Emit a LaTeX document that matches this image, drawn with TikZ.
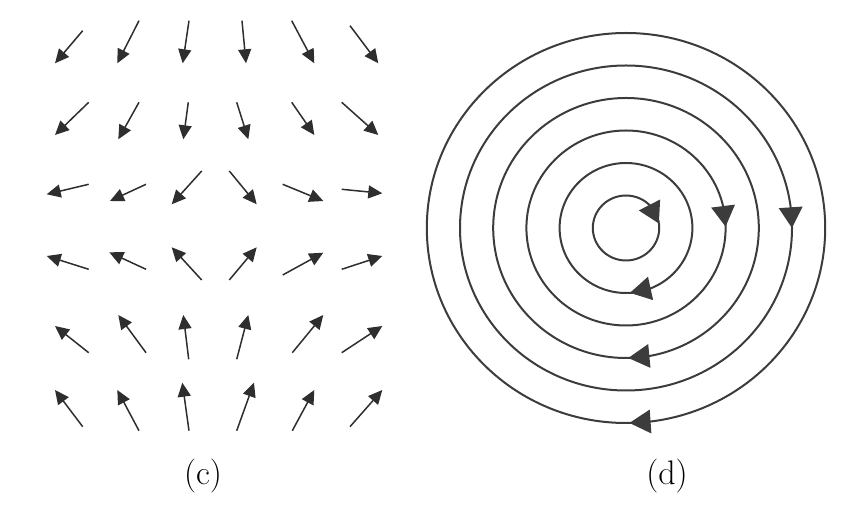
\documentclass[tikz,border=0pt]{standalone}
\usetikzlibrary{arrows.meta,calc}
\definecolor{ink}{HTML}{2E2E2E}
\definecolor{ring}{HTML}{3C3C3C}
\tikzset{
  fieldarrow/.style={draw=ink,line width=1.5pt,-{Triangle[length=14pt,width=13pt]}},
  orbit/.style={draw=ring,line width=2pt},
  orbithead/.style={fill=ring},
  caption/.style={anchor=base,inner sep=0pt,font=\fontsize{34}{40}\selectfont}
}
\begin{document}
\begin{tikzpicture}[x=1pt,y=1pt]
\useasboundingbox (0,0) rectangle (861,524);
% ---- (c) vector field ----
\foreach \ax/\ay/\bx/\by in {
  82.7/493.3/55/460.7, 139/503.3/117.3/460.7, 189/503.3/182.7/460.7,
  242/503.3/246/460.7, 291.7/503.3/314.3/460.7, 350/498.3/378.3/460.7,
  88.7/421.7/55/389, 139/421.7/118.3/384.7, 188.3/421.7/183.3/384.7,
  236.7/421.7/248.3/384.7, 291.7/421.7/314.3/389, 341.7/421.7/378.3/389,
  88.7/339.7/46.7/329.7, 146/339.7/110/323, 201.7/353/171.7/319.7,
  229.3/353/256.7/319.7, 282.7/339.7/323.3/323, 341.7/334.7/382.3/330.7,
  88.7/254.7/46.7/268, 146/254.7/109.3/271.7, 201.7/244/171.7/276.7,
  229.3/244/256.7/276.7, 282.7/249/323.3/271.3, 341.7/254.7/382.3/268,
  88.7/171.3/55/198, 146/171.3/118.3/209, 188.7/164.7/183.3/209,
  236.7/164.7/248.3/209, 292.3/171.3/323.3/209, 341.7/171.3/382.3/198,
  82.7/97.3/55/134, 139/93.3/117.3/134, 189/93.3/182.3/141.3,
  236.7/93.3/254/141.3, 292.3/93.3/314.3/134, 350/97.3/382.3/134}
{
  \coordinate (tail) at (\ax,\ay);
  \coordinate (head) at (\bx,\by);
  \draw[fieldarrow] (tail) -- (head);
}
\node[caption] (capc) at (203,39) {(c)};
% ---- (d) closed orbits ----
\coordinate (ctr) at (626,296);
\foreach \k in {1,...,6}{
  \pgfmathsetmacro\rx{33.2*\k}
  \pgfmathsetmacro\ry{32.5*\k}
  \draw[orbit] (ctr) ellipse [x radius=\rx pt, y radius=\ry pt];
}
\foreach \k/\t in {1/8, 2/-86.6, 3/0.8, 4/-89, 5/0, 6/-89}{
  \pgfmathsetmacro\rx{33.2*\k}
  \pgfmathsetmacro\ry{32.5*\k}
  \pgfmathsetmacro\dd{2*asin(10.5/(33*\k))}
  \pgfmathsetmacro\tb{\t+\dd}
  \coordinate (T) at ($(ctr)+({\rx*cos(\t)},{\ry*sin(\t)})$);
  \coordinate (B) at ($(ctr)+({\rx*cos(\tb)},{\ry*sin(\tb)})$);
  \fill[orbithead] ($(B)!12pt!90:(T)$) -- (T) -- ($(B)!12pt!-90:(T)$) -- cycle;
}
\node[caption] (capd) at (667,39) {(d)};
\end{tikzpicture}
\end{document}
